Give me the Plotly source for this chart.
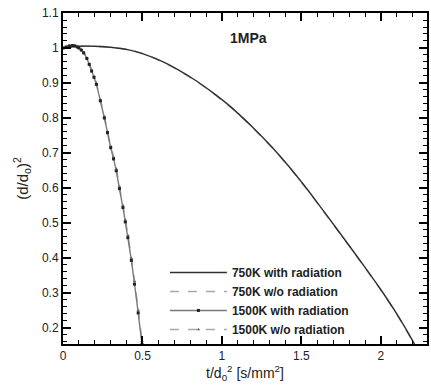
import plotly.graph_objects as go

# 750 K curves (with / without radiation are nearly identical)
x_750 = [0.0, 0.1, 0.2, 0.3, 0.42, 0.5, 0.627, 0.72, 0.835, 0.94, 1.044, 1.106, 1.19,
         1.314, 1.42, 1.523, 1.575, 1.669, 1.794, 1.9, 2.0, 2.1, 2.2, 2.215]
y_750_rad = [1.0, 1.005, 1.005, 1.002, 0.994, 0.984, 0.961, 0.939, 0.907, 0.873, 0.836, 0.811,
             0.775, 0.717, 0.662, 0.604, 0.573, 0.516, 0.439, 0.373, 0.309, 0.240, 0.163, 0.150]
y_750_norad = [1.0, 1.005, 1.005, 1.002, 0.994, 0.984, 0.960, 0.938, 0.906, 0.872, 0.835, 0.810,
               0.774, 0.716, 0.661, 0.603, 0.572, 0.515, 0.438, 0.372, 0.308, 0.239, 0.162, 0.149]

# 1500 K curves
x_1500 = [0.0, 0.02, 0.04, 0.06, 0.075, 0.09, 0.1, 0.115, 0.13, 0.15, 0.165, 0.18, 0.195,
          0.21, 0.235, 0.26, 0.28, 0.3, 0.318, 0.335, 0.355, 0.377, 0.392, 0.408, 0.43,
          0.45, 0.473, 0.497, 0.5]
y_1500_rad = [1.0, 1.003, 1.006, 1.007, 1.006, 1.003, 1.0, 0.994, 0.986, 0.97, 0.953, 0.934,
              0.916, 0.896, 0.849, 0.80, 0.758, 0.715, 0.683, 0.649, 0.598, 0.544, 0.503,
              0.458, 0.393, 0.325, 0.243, 0.153, 0.145]
y_1500_norad = [1.0, 1.003, 1.006, 1.007, 1.006, 1.003, 1.0, 0.995, 0.987, 0.972, 0.955, 0.937,
                0.919, 0.899, 0.852, 0.804, 0.762, 0.72, 0.688, 0.655, 0.604, 0.55, 0.509,
                0.465, 0.40, 0.333, 0.251, 0.162, 0.15]

FONT = "Liberation Sans, Arial"

fig = go.Figure()
# draw the w/o-radiation (dashed) curves first so the solid curves stay on top
fig.add_trace(go.Scatter(x=x_750, y=y_750_norad, mode="lines", name="750K w/o radiation",
                         legendrank=2,
                         line=dict(color="#a8a8a8", width=1.6, dash="dash", shape="spline",
                                   smoothing=0.8)))
fig.add_trace(go.Scatter(x=x_1500, y=y_1500_norad, mode="lines+markers", name="1500K w/o radiation",
                         legendrank=4,
                         line=dict(color="#a8a8a8", width=1.6, dash="dash", shape="spline",
                                   smoothing=0.8),
                         marker=dict(symbol="triangle-up", size=3, color="#555555")))
fig.add_trace(go.Scatter(x=x_750, y=y_750_rad, mode="lines", name="750K with radiation",
                         legendrank=1,
                         line=dict(color="#303030", width=1.4, shape="spline", smoothing=0.8)))
fig.add_trace(go.Scatter(x=x_1500, y=y_1500_rad, mode="lines+markers", name="1500K with radiation",
                         legendrank=3,
                         line=dict(color="#7a7a7a", width=1.4, shape="spline", smoothing=0.8),
                         marker=dict(symbol="square", size=3, color="#222222")))

fig.add_annotation(x=1.17, y=1.029, text="<b>1MPa</b>", showarrow=False,
                   font=dict(size=14, color="#222222", family=FONT))

axis_common = dict(showline=True, linecolor="black", linewidth=2, mirror="ticks",
                   ticks="inside", tickcolor="black", showgrid=False, zeroline=False,
                   tickfont=dict(size=12, color="#222222", family=FONT))

fig.update_xaxes(range=[0, 2.29], dtick=0.5, tick0=0, ticklen=8, tickwidth=2,
                 minor=dict(ticks="inside", dtick=0.1, ticklen=4, tickcolor="black", tickwidth=1),
                 title=dict(text="t/d<sub>0</sub><sup>2</sup> [s/mm<sup>2</sup>]", standoff=2,
                            font=dict(size=14, color="#222222", family=FONT)),
                 **axis_common)
fig.update_yaxes(range=[0.154, 1.1], dtick=0.1, tick0=0, ticklen=8, tickwidth=2,
                 minor=dict(ticks="inside", dtick=0.02, ticklen=4, tickcolor="black", tickwidth=1),
                 title=dict(text="(d/d<sub>o</sub>)<sup>2</sup>", standoff=10,
                            font=dict(size=15, color="#222222", family=FONT)),
                 **axis_common)

fig.update_layout(
    width=431, height=385,
    margin=dict(l=63, r=2, t=13, b=41),
    plot_bgcolor="white", paper_bgcolor="white",
    showlegend=True,
    legend=dict(x=0.28, y=0.26, xanchor="left", yanchor="top", traceorder="normal",
                bgcolor="rgba(0,0,0,0)", itemwidth=57, tracegroupgap=0,
                font=dict(size=12, color="#222222", family=FONT, weight="bold"),
                itemsizing="trace"),
)

fig.write_html("out.html")
